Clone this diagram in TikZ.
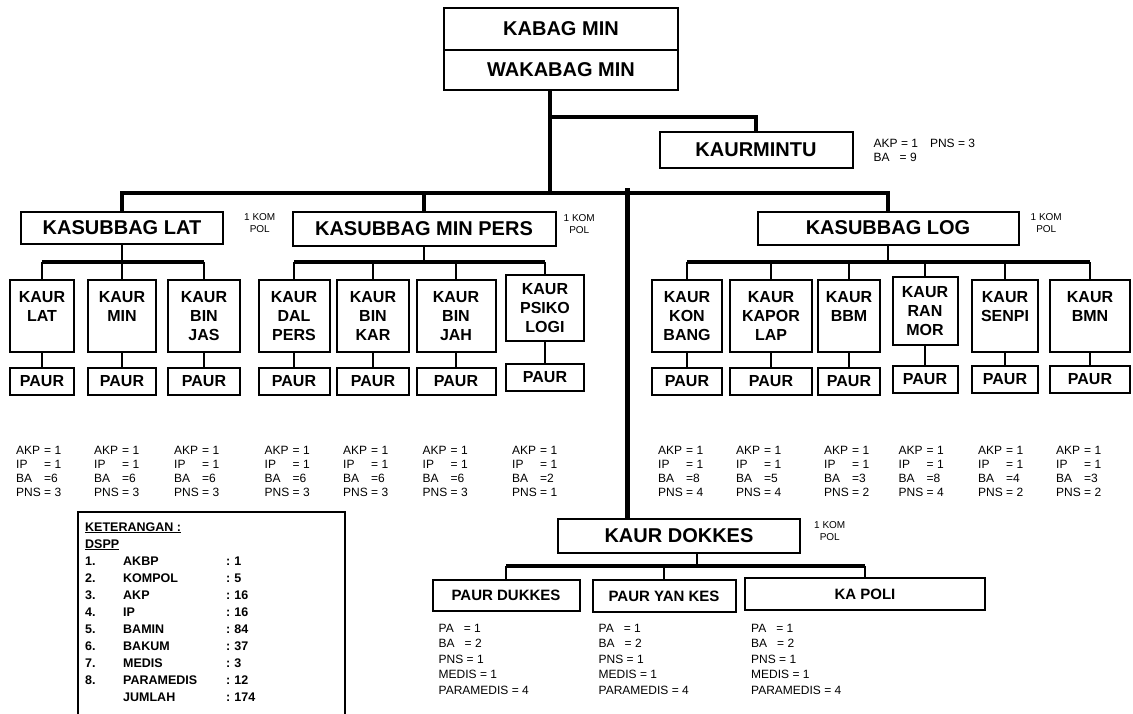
\documentclass[tikz,border=0pt]{standalone}
\usepackage{fontspec}
\setmainfont{Liberation Sans}
\usetikzlibrary{positioning}
\tikzset{
  unit/.style={draw, line width=2pt, inner sep=0pt, font=\bfseries\fontsize{20}{22}\selectfont},
  kaur/.style={draw, line width=2pt, inner sep=0pt, anchor=north, align=center, font=\bfseries\fontsize{16}{19}\selectfont},
  paur/.style={draw, line width=2pt, inner sep=0pt, font=\bfseries\fontsize{16}{18}\selectfont},
  kom/.style={inner sep=0pt, align=center, font=\fontsize{10}{12}\selectfont},
  info/.style={inner sep=0pt, anchor=north west, font=\fontsize{12}{14}\selectfont},
  trunk/.style={line width=4pt},
  bus/.style={line width=3.5pt},
  link/.style={line width=1.8pt}
}
\begin{document}
\begin{tikzpicture}[x=1pt, y=-1pt]
\useasboundingbox (0,0) rectangle (1133,713);
\coordinate (S) at (550,193); \coordinate (T) at (550,117); \coordinate (D) at (627,188);
\coordinate (G) at (0,262); \coordinate (R) at (0,444);
\coordinate (E) at (697,566); \coordinate (F) at (0,624);
\node[unit, minimum width=234pt, minimum height=42pt] (kabag) at (561,29) {KABAG MIN};
\node[unit, minimum width=234pt, minimum height=40pt] (wakabag) at (561,70) {WAKABAG MIN};
\node[unit, minimum width=193pt, minimum height=36pt] (mintu) at (756,150) {KAURMINTU};
\node[info, align=left, right=20pt of mintu] (mintuinfo) {AKP = 1\quad PNS = 3\\BA\ \ \ = 9};
\node[unit, minimum width=202pt, minimum height=32pt] (lat) at (122,228) {KASUBBAG LAT};
\node[unit, minimum width=263pt, minimum height=34pt] (pers) at (424,229) {KASUBBAG MIN PERS};
\node[unit, minimum width=261pt, minimum height=33pt] (log) at (888,228) {KASUBBAG LOG};
\node[unit, minimum width=242pt, minimum height=34pt] (dokkes) at (679,536) {KAUR DOKKES};
\foreach \b/\g in {lat/20, pers/7, log/11, dokkes/13}
  \node[kom, right=\g pt of \b, yshift=5pt] (kom\b) {1 KOM\\POL};
\foreach \n/\x/\y/\w/\h/\py/\txt/\ba/\pns in {
  l1/42/279/64/72/381/{KAUR\\LAT\\\mbox{}}/6/3, l2/122/279/68/72/381/{KAUR\\MIN\\\mbox{}}/6/3,
  l3/204/279/72/72/381/{KAUR\\BIN\\JAS}/6/3, m1/294/279/71/72/381/{KAUR\\DAL\\PERS}/6/3,
  m2/373/279/72/72/381/{KAUR\\BIN\\KAR}/6/3, m3/456/279/79/72/381/{KAUR\\BIN\\JAH}/6/3,
  m4/545/274/78/66/377/{KAUR\\PSIKO\\LOGI}/2/1, g1/687/279/70/72/381/{KAUR\\KON\\BANG}/8/4,
  g2/771/279/82/72/381/{KAUR\\KAPOR\\LAP}/5/4, g3/849/279/62/72/381/{KAUR\\BBM\\\mbox{}}/3/2,
  g4/925/276/65/68/379/{KAUR\\RAN\\MOR}/8/4, g5/1005/279/66/72/379/{KAUR\\SENPI\\\mbox{}}/4/2,
  g6/1090/279/80/72/379/{KAUR\\BMN\\\mbox{}}/3/2} {
  \node[kaur, minimum width=\w pt, minimum height=\h pt] (k\n) at (\x,\y) {\txt};
  \node[paur, minimum width=\w pt, minimum height=27pt] (p\n) at (\x,\py) {PAUR};
  \draw[link] (k\n) -- (p\n) (k\n) -- (k\n |- G);
  \node[info, xshift=7pt] (d\n) at (p\n.west |- R) {\begin{tabular}{@{}l@{\ }l@{}}AKP&= 1\\IP&= 1\\BA&=\ba\\PNS&= \pns\end{tabular}};
}
\node[paur, minimum width=147pt, minimum height=31pt, font=\bfseries\fontsize{15}{18}\selectfont] (dk1) at (506,595) {PAUR DUKKES};
\node[paur, minimum width=143pt, minimum height=32pt, font=\bfseries\fontsize{15}{18}\selectfont] (dk2) at (664,596) {PAUR YAN KES};
\node[paur, minimum width=240pt, minimum height=32pt, font=\bfseries\fontsize{15}{18}\selectfont] (dk3) at (865,594) {KA POLI};
\foreach \k in {dk1,dk2,dk3}
  \node[info, align=left, font=\fontsize{12}{15.5}\selectfont, xshift=7pt] (d\k) at (\k.west |- F) {PA\ \ \ = 1\\BA\ \ \ = 2\\PNS = 1\\MEDIS = 1\\PARAMEDIS = 4};
\draw[trunk] (S |- wakabag.south) -- (S);
\draw[bus] (T) -| (mintu);
\draw[trunk] (lat) |- (S) -| (log);
\draw[trunk] (pers) -- (pers |- S);
\draw[line width=5pt] (D) -- (D |- dokkes.north);
\draw[link] (lat) -- (lat |- G) (pers) -- (pers |- G) (log) -- (log |- G);
\draw[bus] (kl1 |- G) -- (kl3 |- G) (km1 |- G) -- (km4 |- G) (kg1 |- G) -- (kg6 |- G);
\draw[link] (E |- dokkes.south) -- (E);
\draw[bus] (dk1 |- E) -- (dk3 |- E);
\foreach \k in {dk1,dk2,dk3} \draw[link] (\k) -- (\k |- E);
\draw[line width=2pt] (78,716) rectangle (345,512);
\node[anchor=north west, inner sep=0pt, font=\bfseries\fontsize{12.5}{17}\selectfont] (legend) at (85,519) {\begin{tabular}{@{}p{38pt}@{}p{103pt}@{}l@{\hspace{4pt}}l@{}}
\multicolumn{4}{@{}l}{\underline{KETERANGAN :}}\\
\multicolumn{4}{@{}l}{\underline{DSPP}}\\
1. & AKBP & : & 1\\
2. & KOMPOL & : & 5\\
3. & AKP & : & 16\\
4. & IP & : & 16\\
5. & BAMIN & : & 84\\
6. & BAKUM & : & 37\\
7. & MEDIS & : & 3\\
8. & PARAMEDIS & : & 12\\
 & JUMLAH & : & 174
\end{tabular}};
\end{tikzpicture}
\end{document}
